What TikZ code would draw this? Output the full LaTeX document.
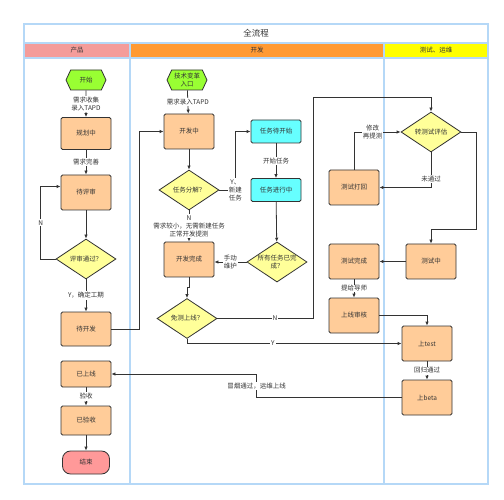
\documentclass[tikz,border=0pt]{standalone}
\usepackage{fontspec}
\setmainfont{Noto Sans CJK SC}
\usepackage{xcolor}
\usetikzlibrary{shapes.geometric,shapes.symbols,arrows.meta}
\definecolor{colorA}{HTML}{99FF33}
\definecolor{colorB}{HTML}{FFCC99}
\definecolor{colorC}{HTML}{66FFFF}
\definecolor{colorD}{HTML}{FFFF99}
\definecolor{colorE}{HTML}{FF9999}
\definecolor{colorF}{HTML}{B5D8F7}
\definecolor{colorG}{HTML}{F49C9A}
\definecolor{colorH}{HTML}{FF9A33}
\definecolor{colorI}{HTML}{FFFF00}
\definecolor{colorL}{HTML}{333333}
\newcommand*{\smallfont}{\fontsize{6.5}{8}\selectfont}

\begin{document}
\begin{tikzpicture}[x=1pt, y=-1pt,
		lane/.style={draw=colorF, line width=1.4pt},
		head/.style={text=colorL, font=\smallfont},
		box/.style={draw=colorL, line width=0.8pt, fill=colorB, rounded corners=1.5pt,
			minimum width=50pt, minimum height=35pt, inner sep=1pt, text=colorL, font=\smallfont},
		task/.style={box, fill=colorC, minimum height=23pt},
		choice/.style={diamond, shape aspect=1.5, draw=colorL, line width=0.8pt, fill=colorD,
			minimum width=60pt, minimum height=40pt, inner sep=0pt, align=center,
			text=colorL, font=\smallfont},
		entry/.style={signal, signal to=west and east, signal pointer angle=130,
			draw=colorL, line width=0.8pt, fill=colorA, minimum width=40pt,
			minimum height=20pt, inner sep=1pt, align=center, text=colorL, font=\smallfont},
		finish/.style={box, fill=colorE, rounded corners=8pt, minimum width=47pt, minimum height=23pt},
		lbl/.style={fill=white, inner sep=1pt, align=center, text=colorL, font=\smallfont},
		arr/.style={draw=colorL, line width=0.8pt, -{Latex[length=4pt,width=3.5pt]}},
	]
		\useasboundingbox (0,0) rectangle (504,500);
		%
		\fill[colorG] (24,43) rectangle (130,58);
		\fill[colorH] (130,43) rectangle (384,58);
		\fill[colorI] (384,43) rectangle (488,58);
		\draw[lane] (24,24) rectangle (488,484);
		\draw[lane] (24,43) -- (488,43);
		\draw[lane] (24,58) -- (488,58);
		\draw[lane] (130,43) -- (130,484);
		\draw[lane] (384,43) -- (384,484);
		\node[head, font=\fontsize{8.5}{10}\selectfont] (title) at (256,33.5) {全流程};
		\node[head] (laneA) at (77,50.5) {产品};
		\node[head] (laneB) at (257,50.5) {开发};
		\node[head] (laneC) at (436,50.5) {测试、运维};
		%
		\node[entry] (start) at (86,80) {开始};
		\node[box, minimum height=32pt] (plan) at (86,133.5) {规划中};
		\node[box] (review) at (86,192.5) {待评审};
		\node[choice] (pass) at (86,259) {评审通过？};
		\node[box, minimum height=34pt] (ready) at (86,329) {待开发};
		\node[box, minimum height=26pt] (online) at (86,374) {已上线};
		\node[box, minimum height=29pt] (accepted) at (86,420.5) {已验收};
		\node[finish] (stop) at (86,462.5) {结束};
		%
		\node[entry] (tech) at (187,80) {技术变革\\入口};
		\node[box] (dev) at (189,131.5) {开发中};
		\node[choice] (split) at (189,190) {任务分解？};
		\node[box] (devdone) at (189,259.5) {开发完成};
		\node[choice] (skip) at (187,318.5) {免测上线？};
		\node[task] (todo) at (276,131.5) {任务待开始};
		\node[task] (doing) at (276,190) {任务进行中};
		\node[choice] (alldone) at (277,262) {所有任务已完\\成？};
		%
		\node[choice] (eval) at (431,132) {转测试评估};
		\node[box] (retest) at (354,187.5) {测试打回};
		\node[box] (testing) at (431,261.5) {测试中};
		\node[box] (testdone) at (354,261.5) {测试完成};
		\node[box] (audit) at (354,315.5) {上线审核};
		\node[box] (uptest) at (427,343.5) {上test};
		\node[box] (upbeta) at (427,397.5) {上beta};
		%
		\draw[arr] (start) -- node[lbl]{需求收集\\录入TAPD} (plan);
		\draw[arr] (plan) -- node[lbl]{需求完善} (review);
		\draw[arr] (review) -- (pass);
		\draw[arr] (pass.west) -- ++(-15,0) |- node[pos=0.25, lbl]{N} ([yshift=6pt]review.west);
		\draw[arr] (pass) -- node[lbl]{Y，确定工期} (ready);
		\draw[arr] (ready.east) -- ++(28,0) |- (dev.west);
		\draw[arr] (online) -- node[lbl]{验收} (accepted);
		\draw[arr] (accepted) -- (stop);
		%
		\draw[arr] (tech) -- node[lbl]{需求录入TAPD} (dev);
		\draw[arr] (dev) -- (split);
		\draw[arr] (split.east) -- ++(16,0) node[lbl]{Y、\\新建\\任务} |- (todo.west);
		\draw[arr] (todo) -- node[lbl]{开始任务} (doing);
		\draw[arr] (doing) -- (alldone);
		\draw[arr] (alldone.west) -- node[lbl]{手动\\维护} (devdone.east |- alldone.west);
		\draw[arr] (split) -- node[lbl]{N\\需求较小，无需新建任务\\正常开发提测} (devdone);
		\draw[arr] (devdone.south) -- ++(0,10) -| (skip.north);
		\draw[arr] (skip.east) -- node[pos=0.6, lbl]{N} ++(96,0) -- ++(0,-221) -| (eval.north);
		\draw[arr] (skip.south) |- node[pos=0.7, lbl]{Y} (uptest.west);
		%
		\draw[arr] (eval.south) |- node[pos=0.375, lbl]{未通过} (retest.east);
		\draw[arr] (retest.north) |- node[pos=0.7, lbl]{修改\\再提测} (eval.west);
		\draw[arr] (eval.east) -- ++(15,0) -- ++(0,97) -| (testing.north);
		\draw[arr] (testing) -- (testdone);
		\draw[arr] (testdone) -- node[lbl]{提给导师} (audit);
		\draw[arr] (audit.east) -| (uptest.north);
		\draw[arr] (uptest) -- node[lbl]{回归通过} (upbeta);
		\draw[arr] (upbeta.west) -- ++(-145,0) |- node[pos=0.25, lbl]{冒烟通过，运维上线} (online.east);
	\end{tikzpicture}
\end{document}
